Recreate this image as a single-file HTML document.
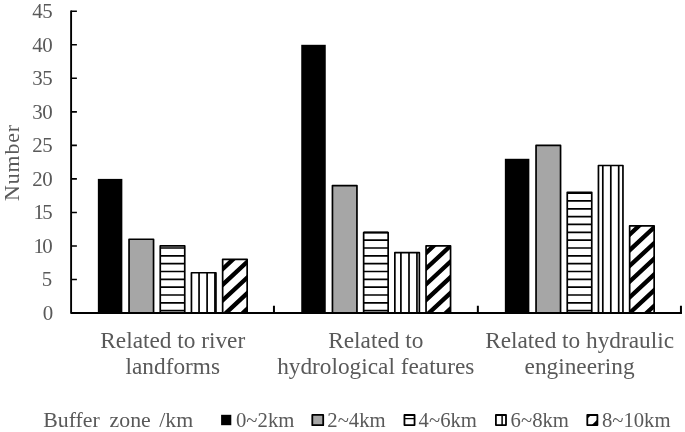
<!DOCTYPE html>
<html lang="en"><head><meta charset="utf-8"><title>Chart</title>
<style>html,body{margin:0;padding:0;background:#fff}svg{display:block}text{font-family:"Liberation Serif",serif;fill:#595959}</style>
</head><body>
<svg width="685" height="432" viewBox="0 0 685 432" stroke-linejoin="round">
<rect width="685" height="432" fill="#fff"/>
<rect x="97.85" y="178.90" width="24.50" height="134.10" fill="#000"/>
<rect x="129.05" y="239.25" width="24.50" height="73.75" fill="#a6a6a6" stroke="#000" stroke-width="1.7"/>
<rect x="160.25" y="245.95" width="24.50" height="67.05" fill="#fff" stroke="#000" stroke-width="1.7"/>
<path d="M160.25,310.70H184.75M160.25,302.86H184.75M160.25,295.02H184.75M160.25,287.18H184.75M160.25,279.34H184.75M160.25,271.50H184.75M160.25,263.66H184.75M160.25,255.82H184.75M160.25,247.98H184.75" stroke="#000" stroke-width="1.7" fill="none"/>
<rect x="191.45" y="272.77" width="24.50" height="40.23" fill="#fff" stroke="#000" stroke-width="1.7"/>
<path d="M199.05,272.77V313.00M207.10,272.77V313.00M214.95,272.77V313.00" stroke="#000" stroke-width="1.7" fill="none"/>
<clipPath id="c0"><rect x="222.65" y="259.36" width="24.50" height="53.64"/></clipPath>
<rect x="222.65" y="259.36" width="24.50" height="53.64" fill="#fff"/>
<path d="M220.65,365.06L249.15,338.55M220.65,349.36L249.15,322.85M220.65,333.66L249.15,307.15M220.65,317.96L249.15,291.45M220.65,302.26L249.15,275.75M220.65,286.56L249.15,260.06M220.65,270.86L249.15,244.35" stroke="#000" stroke-width="4.35" fill="none" clip-path="url(#c0)"/>
<rect x="222.65" y="259.36" width="24.50" height="53.64" fill="none" stroke="#000" stroke-width="1.7"/>
<rect x="301.25" y="44.80" width="24.50" height="268.20" fill="#000"/>
<rect x="332.45" y="185.61" width="24.50" height="127.39" fill="#a6a6a6" stroke="#000" stroke-width="1.7"/>
<rect x="363.65" y="232.54" width="24.50" height="80.46" fill="#fff" stroke="#000" stroke-width="1.7"/>
<path d="M363.65,310.70H388.15M363.65,302.86H388.15M363.65,295.02H388.15M363.65,287.18H388.15M363.65,279.34H388.15M363.65,271.50H388.15M363.65,263.66H388.15M363.65,255.82H388.15M363.65,247.98H388.15M363.65,240.14H388.15M363.65,232.30H388.15" stroke="#000" stroke-width="1.7" fill="none"/>
<rect x="394.85" y="252.66" width="24.50" height="60.34" fill="#fff" stroke="#000" stroke-width="1.7"/>
<path d="M400.90,252.66V313.00M409.00,252.66V313.00M416.95,252.66V313.00" stroke="#000" stroke-width="1.7" fill="none"/>
<clipPath id="c1"><rect x="426.05" y="245.95" width="24.50" height="67.05"/></clipPath>
<rect x="426.05" y="245.95" width="24.50" height="67.05" fill="#fff"/>
<path d="M424.05,364.66L452.55,338.15M424.05,348.96L452.55,322.45M424.05,333.26L452.55,306.75M424.05,317.56L452.55,291.06M424.05,301.86L452.55,275.36M424.05,286.16L452.55,259.66M424.05,270.46L452.55,243.96M424.05,254.76L452.55,228.26" stroke="#000" stroke-width="4.35" fill="none" clip-path="url(#c1)"/>
<rect x="426.05" y="245.95" width="24.50" height="67.05" fill="none" stroke="#000" stroke-width="1.7"/>
<rect x="504.85" y="158.78" width="24.50" height="154.22" fill="#000"/>
<rect x="536.05" y="145.38" width="24.50" height="167.62" fill="#a6a6a6" stroke="#000" stroke-width="1.7"/>
<rect x="567.25" y="192.31" width="24.50" height="120.69" fill="#fff" stroke="#000" stroke-width="1.7"/>
<path d="M567.25,310.70H591.75M567.25,302.86H591.75M567.25,295.02H591.75M567.25,287.18H591.75M567.25,279.34H591.75M567.25,271.50H591.75M567.25,263.66H591.75M567.25,255.82H591.75M567.25,247.98H591.75M567.25,240.14H591.75M567.25,232.30H591.75M567.25,224.46H591.75M567.25,216.62H591.75M567.25,208.78H591.75M567.25,200.94H591.75M567.25,193.10H591.75" stroke="#000" stroke-width="1.7" fill="none"/>
<rect x="598.45" y="165.49" width="24.50" height="147.51" fill="#fff" stroke="#000" stroke-width="1.7"/>
<path d="M602.80,165.49V313.00M610.80,165.49V313.00M618.70,165.49V313.00" stroke="#000" stroke-width="1.7" fill="none"/>
<clipPath id="c2"><rect x="629.65" y="225.83" width="24.50" height="87.17"/></clipPath>
<rect x="629.65" y="225.83" width="24.50" height="87.17" fill="#fff"/>
<path d="M627.65,361.96L656.15,335.45M627.65,346.26L656.15,319.75M627.65,330.56L656.15,304.05M627.65,314.86L656.15,288.35M627.65,299.16L656.15,272.65M627.65,283.46L656.15,256.95M627.65,267.76L656.15,241.25M627.65,252.06L656.15,225.55M627.65,236.36L656.15,209.85" stroke="#000" stroke-width="4.35" fill="none" clip-path="url(#c2)"/>
<rect x="629.65" y="225.83" width="24.50" height="87.17" fill="none" stroke="#000" stroke-width="1.7"/>
<path d="M71.10,10.50V313.00H681.95" stroke="#000" stroke-width="1.9" fill="none" stroke-linejoin="round"/>
<path d="M71.10,279.48h5.8M71.10,245.95h5.8M71.10,212.43h5.8M71.10,178.90h5.8M71.10,145.38h5.8M71.10,111.85h5.8M71.10,78.32h5.8M71.10,44.80h5.8M71.10,11.27h5.8" stroke="#000" stroke-width="1.6" fill="none"/>
<path d="M273.95,313.00v-7.3M477.85,313.00v-7.3M680.95,313.00v-7.3" stroke="#000" stroke-width="2" fill="none"/>
<text x="53.1" y="319.70" font-size="20.9" text-anchor="end">0</text>
<text x="52.3" y="286.18" font-size="20.9" text-anchor="end">5</text>
<text x="52.8" y="252.65" font-size="20.9" text-anchor="end" textLength="19.3">10</text>
<text x="52.8" y="219.12" font-size="20.9" text-anchor="end" textLength="19.3">15</text>
<text x="52.8" y="185.60" font-size="20.9" text-anchor="end" textLength="20.5">20</text>
<text x="52.8" y="152.07" font-size="20.9" text-anchor="end" textLength="20.5">25</text>
<text x="52.8" y="118.55" font-size="20.9" text-anchor="end" textLength="20.5">30</text>
<text x="52.8" y="85.02" font-size="20.9" text-anchor="end" textLength="20.5">35</text>
<text x="52.8" y="51.50" font-size="20.9" text-anchor="end" textLength="20.5">40</text>
<text x="52.8" y="17.97" font-size="20.9" text-anchor="end" textLength="20.5">45</text>
<text transform="translate(19.3,162.5) rotate(-90)" font-size="21.8" letter-spacing="0.95" text-anchor="middle">Number</text>
<text x="172.75" y="347.8" font-size="23.3" text-anchor="middle">Related to river</text>
<text x="172.75" y="374.1" font-size="23.3" text-anchor="middle">landforms</text>
<text x="375.80" y="347.8" font-size="23.3" text-anchor="middle">Related to</text>
<text x="375.80" y="374.1" font-size="23.3" text-anchor="middle">hydrological features</text>
<text x="579.60" y="347.8" font-size="23.3" text-anchor="middle">Related to hydraulic</text>
<text x="579.60" y="374.1" font-size="23.3" text-anchor="middle">engineering</text>
<text x="43.3" y="426.9" font-size="21.8">Buffer</text>
<text x="109.6" y="426.9" font-size="21.8">zone</text>
<text x="159.2" y="426.9" font-size="21.8">/km</text>
<rect x="221.1" y="414.8" width="10.2" height="10.4" fill="#000"/>
<rect x="312.3" y="414.9" width="10.9" height="10.25" fill="#a6a6a6" stroke="#000" stroke-width="1.8"/>
<rect x="404.45" y="415.00" width="10.1" height="10.1" fill="#fff" stroke="#000" stroke-width="1.8"/>
<path d="M404.45,418.6h10.1" stroke="#000" stroke-width="1.3"/>
<rect x="495.9" y="415.00" width="10.1" height="10.1" fill="#fff" stroke="#000" stroke-width="1.8"/>
<path d="M502.1,415v10.1" stroke="#000" stroke-width="1.5"/>
<rect x="587.3" y="415.00" width="10.1" height="10.1" fill="#fff" stroke="#000" stroke-width="1.8"/>
<path d="M587.3,415h3.8l-3.8,3.8z M597.4,419.5v5.6h-5.6z" fill="#000"/>
<text x="236.0" y="427.2" font-size="20.7">0~2km</text>
<text x="327.3" y="427.2" font-size="20.7">2~4km</text>
<text x="418.6" y="427.2" font-size="20.7">4~6km</text>
<text x="510.6" y="427.2" font-size="20.7">6~8km</text>
<text x="601.9" y="427.2" font-size="20.7">8~10km</text>
</svg>
</body></html>
